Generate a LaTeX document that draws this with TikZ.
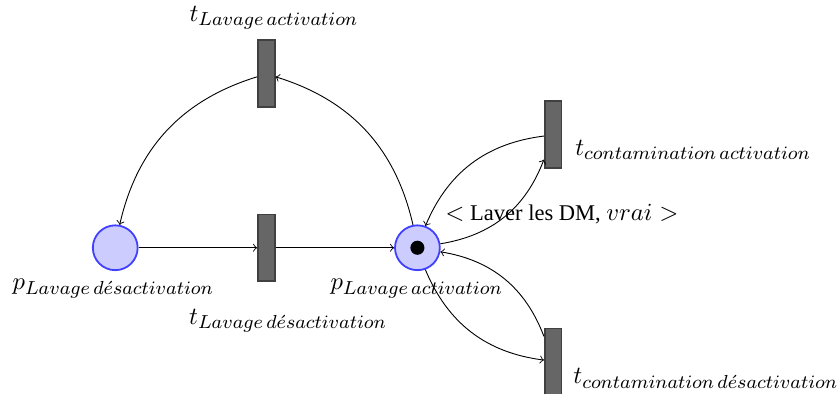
\RequirePackage{fix-cm}
\documentclass[tikz,border=0pt]{standalone}
\usepackage[no-math]{fontspec}
\setmainfont{Liberation Serif}
\DeclareMathSizes{10}{10.95}{8.4}{6}
\usetikzlibrary{petri}
\begin{document}
\begin{tikzpicture}[x=1cm,y=1cm,
  place/.style={circle,draw=blue!75,fill=blue!20,thick,minimum size=7mm},
  transition/.style={rectangle,draw=black!75,fill=black!60,thick,minimum width=2.6mm,minimum height=10.4mm,inner sep=0pt},
  every token/.style={fill=black,draw=none,circle,inner sep=0pt,minimum size=2.2mm},
  lbl/.style={inner sep=0pt}]
  \useasboundingbox (-1.80,-2.28) rectangle (11.29,3.87);
  \node[place] (pdes) at (0,0) {};
  \node[transition] (tdes) at (2.36,0) {};
  \node[place,tokens=1] (pact) at (4.72,0) {};
  \node[transition] (tact) at (2.36,2.72) {};
  \node[transition] (tcact) at (6.84,1.77) {};
  \node[transition] (tcdes) at (6.84,-1.78) {};
  \node[lbl] (lpdes) at (-0.03,-0.64) {$p_{Lavage\,d\acute{e}sactivation}$};
  \node[lbl] (lpact) at (4.71,-0.64) {$p_{Lavage\,activation}$};
  \node[lbl] (ltdes) at (2.70,-1.14) {$t_{Lavage\,d\acute{e}sactivation}$};
  \node[lbl] (ltact) at (2.48,3.59) {$t_{Lavage\,activation}$};
  \node[lbl,anchor=west] (ltcact) at (7.18,1.53) {$t_{contamination\,activation}$};
  \node[lbl,anchor=west] (ltcdes) at (7.15,-2.04) {$t_{contamination\,d\acute{e}sactivation}$};
  \node[lbl,anchor=west] (garde) at (5.15,0.52) {$<$ Laver les DM, $vrai >$};
  \draw[->] (pdes) -- (tdes);
  \draw[->] (tdes) -- (pact);
  \draw[->] (pact) to[bend right] (tact);
  \draw[->] (tact) to[bend right] (pdes);
  \draw[->] (pact) to[bend right] (tcact);
  \draw[->] (tcact) to[bend right] (pact);
  \draw[->] (pact) to[bend right] (tcdes);
  \draw[->] (tcdes) to[bend right] (pact);
\end{tikzpicture}
\end{document}
